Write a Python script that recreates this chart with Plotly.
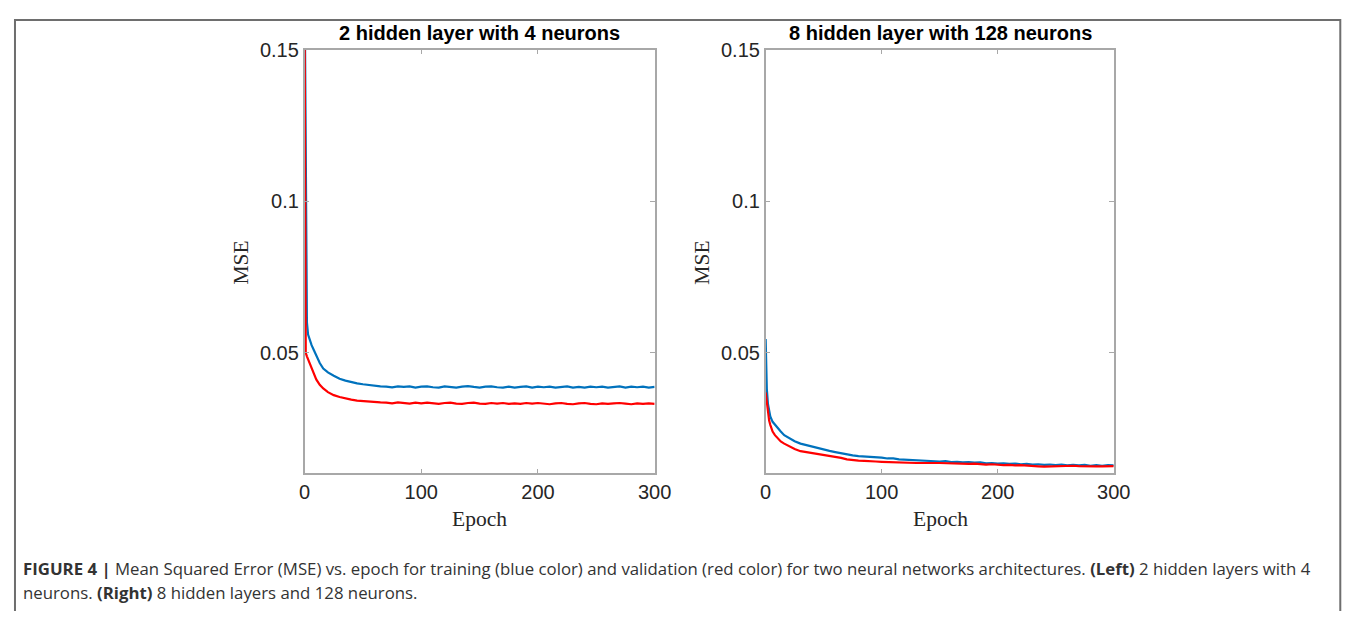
import plotly.graph_objects as go

# ---- data ----
epochs = [0, 1, 2, 3, 4, 6, 8, 10, 13, 16,
          20, 25, 30, 35, 40, 45, 50, 55, 60, 65,
          70, 75, 80, 85, 90, 95, 100, 105, 110, 115,
          120, 125, 130, 135, 140, 145, 150, 155, 160, 165,
          170, 175, 180, 185, 190, 195, 200, 205, 210, 215,
          220, 225, 230, 235, 240, 245, 250, 255, 260, 265,
          270, 275, 280, 285, 290, 295, 300]

left_train = [0.175, 0.095, 0.0600, 0.0560, 0.0545, 0.0525, 0.0508, 0.0490, 0.0466, 0.0448,
              0.0435, 0.0424, 0.0414, 0.0408, 0.0403, 0.0399, 0.0396, 0.0393, 0.0391, 0.0389,
              0.0388, 0.0386, 0.0389, 0.0387, 0.0389, 0.0385, 0.0388, 0.0389, 0.0386, 0.0385,
              0.0389, 0.0387, 0.0385, 0.0388, 0.0390, 0.0387, 0.0385, 0.0388, 0.0389, 0.0386,
              0.0385, 0.0388, 0.0385, 0.0387, 0.0389, 0.0385, 0.0388, 0.0386, 0.0388, 0.0385,
              0.0387, 0.0389, 0.0385, 0.0387, 0.0385, 0.0388, 0.0386, 0.0388, 0.0385, 0.0387,
              0.0389, 0.0385, 0.0388, 0.0386, 0.0388, 0.0385, 0.0387]

left_val = [0.165, 0.0500, 0.0488, 0.0478, 0.0468, 0.0448, 0.0428, 0.0412, 0.0394, 0.0382,
            0.0370, 0.0360, 0.0354, 0.0349, 0.0345, 0.0342, 0.0340, 0.0338, 0.0337, 0.0336,
            0.0335, 0.0333, 0.0336, 0.0334, 0.0332, 0.0335, 0.0333, 0.0335, 0.0332, 0.0331,
            0.0334, 0.0335, 0.0332, 0.0331, 0.0334, 0.0335, 0.0332, 0.0331, 0.0334, 0.0332,
            0.0334, 0.0331, 0.0333, 0.0331, 0.0334, 0.0332, 0.0334, 0.0331, 0.0330, 0.0333,
            0.0334, 0.0331, 0.0330, 0.0333, 0.0334, 0.0331, 0.0330, 0.0333, 0.0331, 0.0333,
            0.0334, 0.0332, 0.0330, 0.0333, 0.0331, 0.0333, 0.0331]

right_train = [0.0545, 0.0380, 0.0330, 0.0305, 0.0290, 0.0272, 0.0262, 0.0254, 0.0240, 0.0228,
               0.0218, 0.0208, 0.0200, 0.0195, 0.0189, 0.0184, 0.0180, 0.0176, 0.0172, 0.0168,
               0.0164, 0.0161, 0.0159, 0.0158, 0.0156, 0.0155, 0.0154, 0.0151, 0.0151, 0.0148,
               0.0147, 0.0147, 0.0144, 0.0145, 0.0142, 0.0143, 0.0141, 0.0142, 0.0139, 0.0140,
               0.0138, 0.0139, 0.0137, 0.0138, 0.0135, 0.0136, 0.0134, 0.0135, 0.0133, 0.0134,
               0.0132, 0.0133, 0.0131, 0.0132, 0.0130, 0.0131, 0.0129, 0.0131, 0.0128, 0.0130,
               0.0128, 0.0130, 0.0127, 0.0129, 0.0127, 0.0129, 0.0128]

right_val = [0.0369, 0.0340, 0.0300, 0.0276, 0.0262, 0.0240, 0.0228, 0.0218, 0.0207, 0.0200,
             0.0192, 0.0182, 0.0175, 0.0172, 0.0169, 0.0166, 0.0163, 0.0158, 0.0156, 0.0153,
             0.0148, 0.0145, 0.0144, 0.0143, 0.0143, 0.0141, 0.0140, 0.0139, 0.0139, 0.0138,
             0.0137, 0.0137, 0.0136, 0.0136, 0.0137, 0.0136, 0.0136, 0.0135, 0.0135, 0.0134,
             0.0133, 0.0133, 0.0134, 0.0132, 0.0131, 0.0132, 0.0130, 0.0129, 0.0130, 0.0128,
             0.0129, 0.0127, 0.0126, 0.0125, 0.0124, 0.0125, 0.0126, 0.0125, 0.0126, 0.0127,
             0.0126, 0.0125, 0.0126, 0.0125, 0.0125, 0.0126, 0.0126]

x_ticks = [0, 100, 200, 300]
x_tick_labels = ["0", "100", "200", "300"]
y_ticks = [0.05, 0.1, 0.15]
y_tick_labels = ["0.05", "0.1", "0.15"]
titles = ["2 hidden layer with 4 neurons", "8 hidden layer with 128 neurons"]

BLUE = "#0072BD"
RED = "#FF0000"

# figure size and a mapping from target screen pixels to figure paper coordinates
OFF = 8
W, H = 1366, 603
AX, BX = 0.983, 5.6
AY, BY = 0.985, 9.3


def px(x):
    fx = (x - BX) / AX - OFF
    return min(max(fx, 1.0), W - 1.0) / W


def py(y):
    fy = (y - BY) / AY - OFF
    return 1 - min(max(fy, 1.0), H - 1.0) / H


fig = go.Figure()
fig.add_trace(go.Scatter(x=epochs, y=left_train, mode="lines", line=dict(color=BLUE, width=2.2),
                         xaxis="x", yaxis="y", showlegend=False))
fig.add_trace(go.Scatter(x=epochs, y=left_val, mode="lines", line=dict(color=RED, width=2.2),
                         xaxis="x", yaxis="y", showlegend=False))
fig.add_trace(go.Scatter(x=epochs, y=right_train, mode="lines", line=dict(color=BLUE, width=2.2),
                         xaxis="x2", yaxis="y2", showlegend=False))
fig.add_trace(go.Scatter(x=epochs, y=right_val, mode="lines", line=dict(color=RED, width=2.2),
                         xaxis="x2", yaxis="y2", showlegend=False))

tickfont = dict(family="Liberation Sans, Arial, sans-serif", size=20, color="#262626")
axis_common = dict(showline=True, linecolor="#a8a8a8", linewidth=1.5, mirror="ticks",
                   ticks="inside", ticklen=5, tickcolor="#a8a8a8", tickwidth=1,
                   showgrid=False, zeroline=False, tickfont=tickfont)

ydom = [py(473), py(48)]
fig.update_layout(
    width=W, height=H,
    margin=dict(l=0, r=0, t=0, b=0),
    paper_bgcolor="white", plot_bgcolor="white",
    xaxis=dict(domain=[px(304), px(654)], range=[0, 300], tickvals=x_ticks, ticktext=x_tick_labels,
               anchor="y", **axis_common),
    yaxis=dict(domain=ydom, range=[0.0102, 0.15], tickvals=y_ticks, ticktext=y_tick_labels,
               anchor="x", **axis_common),
    xaxis2=dict(domain=[px(765), px(1113)], range=[0, 300], tickvals=x_ticks, ticktext=x_tick_labels,
                anchor="y2", **axis_common),
    yaxis2=dict(domain=ydom, range=[0.0102, 0.15], tickvals=y_ticks, ticktext=y_tick_labels,
                anchor="x2", **axis_common),
)

serif = dict(family="Liberation Serif, DejaVu Serif, serif", size=21.5, color="#262626")
annos = []
for cx, title in zip([479, 940], titles):
    annos.append(dict(text="<b>%s</b>" % title, x=px(cx), y=py(31), xref="paper", yref="paper",
                      showarrow=False, xanchor="center", yanchor="middle",
                      font=dict(family="Liberation Sans, Arial, sans-serif", size=20, color="#000000")))
for cx in [479, 940]:
    annos.append(dict(text="Epoch", x=px(cx), y=py(519), xref="paper", yref="paper",
                      showarrow=False, xanchor="center", yanchor="middle", font=serif))
for mx in [240, 701]:
    annos.append(dict(text="MSE", x=px(mx), y=py(262), xref="paper", yref="paper",
                      showarrow=False, xanchor="center", yanchor="middle", textangle=-90, font=serif))

capfont = dict(family="Open Sans, Liberation Sans, sans-serif", size=16.8, color="#333333")
annos.append(dict(text="<b>FIGURE 4 |</b> Mean Squared Error (MSE) vs. epoch for training (blue color) and validation (red color) for two neural networks architectures. <b>(Left)</b> 2 hidden layers with 4",
                  x=px(20), y=py(568), xref="paper", yref="paper", showarrow=False,
                  xanchor="left", yanchor="middle", font=capfont))
annos.append(dict(text="neurons. <b>(Right)</b> 8 hidden layers and 128 neurons.",
                  x=px(20), y=py(593), xref="paper", yref="paper", showarrow=False,
                  xanchor="left", yanchor="middle", font=capfont))
fig.update_layout(annotations=annos)

# outer frame (top, left, right edges); right edge kept inside the visible window
fl, ft = px(8), py(6)
fr = 1349 / W
fig.add_shape(type="path", xref="paper", yref="paper",
              path="M %f,0 L %f,%f L %f,%f L %f,0" % (fl, fl, ft, fr, ft, fr),
              line=dict(color="#6e6e6e", width=2))

fig.write_html("out.html")
